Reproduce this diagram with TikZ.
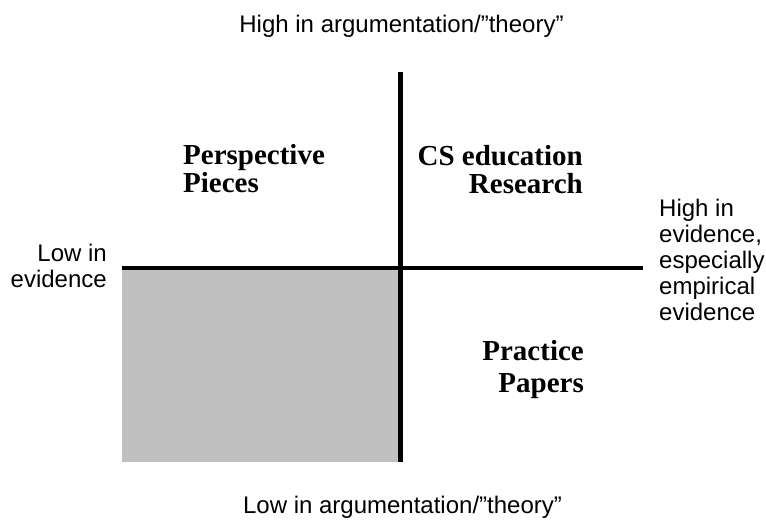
\documentclass[tikz,border=0pt]{standalone}
\usepackage{fontspec}
\setmainfont{Liberation Serif}
\newfontfamily\arialf{Liberation Sans}
\definecolor{quadgrey}{HTML}{C0C0C0}
\begin{document}
\begin{tikzpicture}[x=1pt,y=-1pt,
  axis/.style={line width=4.5pt,black},
  lab/.style={font=\arialf\fontsize{24}{26}\selectfont, inner sep=0pt},
  quad/.style={font=\bfseries\fontsize{29}{28}\selectfont, inner sep=0pt},
]
\useasboundingbox (0,0) rectangle (766,527);
\fill[quadgrey] (122,268) rectangle (401,462);
\coordinate (vtop) at (400.5,72);
\coordinate (vbot) at (400.5,462);
\coordinate (hleft) at (122,268);
\coordinate (hright) at (643,268);
\draw[axis] (vtop) -- (vbot);
\draw[axis] (hleft) -- (hright);
\node[lab, anchor=base] (top) at (401.5,33) {High in argumentation/”theory”};
\node[lab, anchor=base] (bottom) at (402.5,513) {Low in argumentation/”theory”};
\node[lab, anchor=base east, align=right] (low) at (107,287) {Low in\\evidence};
\node[lab, anchor=base west, align=left] (high) at (659,320) {High in\\evidence,\\especially\\empirical\\evidence};
\node[quad, anchor=base west, align=left] (persp) at (183,192) {Perspective\\Pieces};
\node[quad, anchor=base east, align=right] (cs) at (583,193) {CS education\\Research};
\node[quad, anchor=base east, align=right, font=\bfseries\fontsize{29}{32}\selectfont] (prac) at (584,392) {Practice\\Papers};
\end{tikzpicture}
\end{document}
